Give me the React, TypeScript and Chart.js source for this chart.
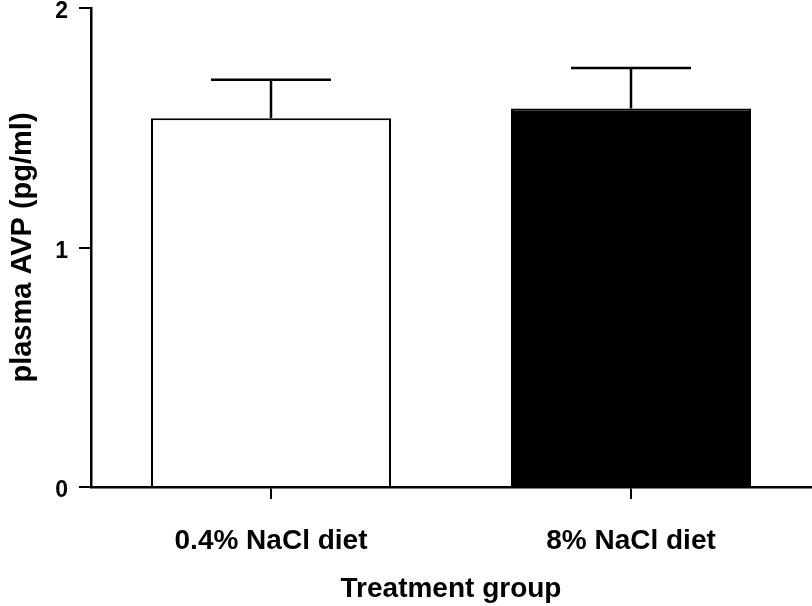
import React, { useEffect, useRef } from "react";
import { Chart, registerables } from "chart.js";

Chart.register(...registerables);

const categories = ["0.4% NaCl diet", "8% NaCl diet"];
const meanValues = [1.54, 1.58];
const semValues = [0.16, 0.17];
const barColors = ["#ffffff", "#000000"];
const yTickValues = [0, 1, 2];

const FONT = "'Liberation Sans', Arial, Helvetica, sans-serif";

const errorBarPlugin = {
  id: "errorBars",
  afterDatasetsDraw(chart: any) {
    const ctx = chart.ctx;
    const yScale = chart.scales.y;
    const meta = chart.getDatasetMeta(0);
    ctx.save();
    ctx.strokeStyle = "#000";
    ctx.lineWidth = 2.5;
    meta.data.forEach((bar: any, i: number) => {
      const x = bar.x;
      const yTop = yScale.getPixelForValue(meanValues[i]);
      const yErr = yScale.getPixelForValue(meanValues[i] + semValues[i]);
      const half = bar.width / 4;
      ctx.beginPath();
      ctx.moveTo(x, yTop);
      ctx.lineTo(x, yErr);
      ctx.moveTo(x - half, yErr);
      ctx.lineTo(x + half, yErr);
      ctx.stroke();
    });
    ctx.restore();
  },
};

export default function App() {
  const canvasRef = useRef<HTMLCanvasElement | null>(null);

  useEffect(() => {
    if (!canvasRef.current) return;
    const chart = new Chart(canvasRef.current, {
      type: "bar",
      data: {
        labels: categories,
        datasets: [
          {
            data: meanValues,
            backgroundColor: barColors,
            borderColor: "#000",
            borderWidth: 2,
            categoryPercentage: 1,
            barPercentage: 2 / 3,
          },
        ],
      },
      options: {
        responsive: false,
        animation: false,
        layout: { padding: { top: 8, right: 1, left: 0, bottom: 0 } },
        plugins: {
          legend: { display: false },
          tooltip: { enabled: false },
        },
        scales: {
          x: {
            offset: true,
            grid: {
              offset: false,
              drawOnChartArea: false,
              drawTicks: true,
              tickLength: 12,
              color: "#000",
              lineWidth: 2,
            },
            border: { display: true, color: "#000", width: 2.5 },
            ticks: {
              color: "#000",
              padding: 25,
              font: { family: FONT, size: 28, weight: "bold" },
            },
            title: {
              display: true,
              text: "Treatment group",
              color: "#000",
              padding: { top: 0, bottom: 0 },
              font: { family: FONT, size: 28, weight: "bold" },
            },
            afterFit(scale: any) {
              scale.height = 119;
            },
          },
          y: {
            min: 0,
            max: 2,
            afterBuildTicks(scale: any) {
              scale.ticks = yTickValues.map((v) => ({ value: v }));
            },
            grid: {
              drawOnChartArea: false,
              drawTicks: true,
              tickLength: 12,
              color: "#000",
              lineWidth: 2,
            },
            border: { display: true, color: "#000", width: 2.5 },
            ticks: {
              color: "#000",
              padding: 11,
              labelOffset: 4,
              font: { family: FONT, size: 23, weight: "bold" },
            },
            title: {
              display: true,
              text: "plasma AVP (pg/ml)",
              color: "#000",
              padding: { top: 6, bottom: 0 },
              font: { family: FONT, size: 29, weight: "bold" },
            },
            afterFit(scale: any) {
              scale.width = 91;
              scale.paddingTop = 0;
              scale.paddingBottom = 0;
            },
          },
        },
      } as any,
      plugins: [errorBarPlugin],
    });
    return () => chart.destroy();
  }, []);

  return (
    <div style={{ position: "absolute", left: 0, top: 0, width: 812, height: 606, background: "#fff" }}>
      <canvas ref={canvasRef} width={812} height={606} />
    </div>
  );
}
